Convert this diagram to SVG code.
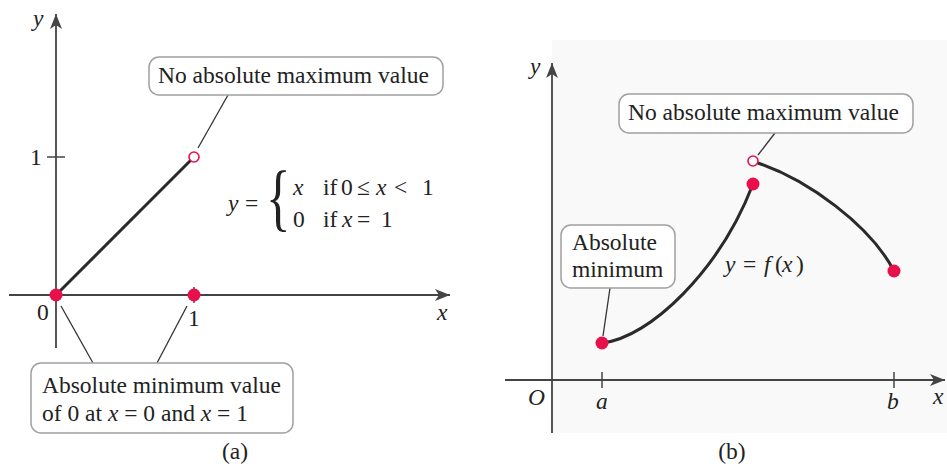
<svg xmlns="http://www.w3.org/2000/svg" width="947" height="468" viewBox="0 0 947 468">
<defs>
<style>
.t{font-family:'Liberation Serif','Times New Roman',serif;font-size:23.5px;fill:#222}
.i{font-style:italic}
.box{fill:#fff;stroke:#a0a0a0;stroke-width:1.5}
.axis{stroke:#444;stroke-width:1.8;fill:none}
.tick{stroke:#444;stroke-width:1.5}
.curve{stroke:#2a2a2a;stroke-width:3;fill:none;stroke-linecap:round}
.lead{stroke:#333;stroke-width:1.3;fill:none}
.dot{fill:#e8104a}
.open{fill:#fff;stroke:#e8104a;stroke-width:1.6}
</style>
<marker id="arr" viewBox="0 0 16 12" refX="15" refY="6" markerWidth="16" markerHeight="12" markerUnits="userSpaceOnUse" orient="auto">
<path d="M15,6 L0,0 L4,6 L0,12 Z" fill="#444"/>
</marker>
</defs>
<rect width="947" height="468" fill="#fff"/>
<rect x="552" y="40" width="395" height="393" fill="#f9f9f9"/>

<g id="axes-a">
<line class="axis" x1="56" y1="348" x2="56" y2="14" marker-end="url(#arr)"/>
<line class="axis" x1="9" y1="295" x2="450" y2="295" marker-end="url(#arr)"/>
<line class="tick" x1="47" y1="157" x2="65" y2="157"/>
<line class="tick" x1="194" y1="287" x2="194" y2="303"/>
<text class="t i" x="33" y="26">y</text>
<text class="t i" x="437" y="320">x</text>
<text class="t" x="37" y="320">0</text>
<text class="t" x="188" y="326">1</text>
<text class="t" x="30" y="165">1</text>
</g>

<g id="axes-b">
<line class="axis" x1="552" y1="433" x2="552" y2="63" marker-end="url(#arr)"/>
<line class="axis" x1="505" y1="380" x2="945" y2="380" marker-end="url(#arr)"/>
<line class="tick" x1="602" y1="372" x2="602" y2="388"/>
<line class="tick" x1="894" y1="372" x2="894" y2="388"/>
<text class="t i" x="530" y="74">y</text>
<text class="t i" x="933" y="404">x</text>
<text class="t i" x="528" y="405">O</text>
<text class="t i" x="596" y="409">a</text>
<text class="t i" x="887" y="409">b</text>
</g>

<g id="connectors">
<line class="lead" x1="228" y1="95" x2="198" y2="148"/>
<line class="lead" x1="61" y1="306" x2="93" y2="363"/>
<line class="lead" x1="187" y1="306" x2="157" y2="363"/>
<line class="lead" x1="775" y1="133" x2="758" y2="155"/>
<line class="lead" x1="610" y1="288" x2="603" y2="336"/>
</g>

<g id="graph-a">
<line class="curve" x1="56" y1="295" x2="190" y2="161"/>
</g>

<g id="graph-b">
<path class="curve" d="M602,343 C650,338 720,270 753,184"/>
<path class="curve" d="M758,163 C808,180 870,225 894,271"/>
</g>

<g id="point-a-open"><circle class="open" cx="194" cy="157" r="5"/></g>
<g id="point-a-0"><circle class="dot" cx="56" cy="295" r="6.5"/></g>
<g id="point-a-1"><circle class="dot" cx="194" cy="295" r="6.5"/></g>
<g id="point-b-a"><circle class="dot" cx="602" cy="343" r="6.5"/></g>
<g id="point-b-top"><circle class="dot" cx="753" cy="184" r="6.5"/></g>
<g id="point-b-b"><circle class="dot" cx="894" cy="271" r="6.5"/></g>
<g id="point-b-open"><circle class="open" cx="753" cy="161" r="5"/></g>

<g id="box-a-max">
<rect class="box" x="149" y="57" width="294" height="38" rx="10"/>
<text class="t" x="158" y="83">No absolute maximum value</text>
</g>

<g id="box-a-min">
<rect class="box" x="31" y="363" width="262" height="70" rx="10"/>
<text class="t" x="42" y="393">Absolute minimum value</text>
<text class="t" y="421"><tspan x="42">of 0 at </tspan><tspan class="i">x</tspan><tspan> = 0 and </tspan><tspan class="i">x</tspan><tspan> = 1</tspan></text>
</g>

<g id="equation-a">
<text class="t"><tspan class="i" x="228" y="211">y</tspan><tspan x="245" y="211">=</tspan></text>
<text class="t" transform="translate(266,222) scale(0.7,1)" style="font-size:73px">{</text>
<text class="t" y="195"><tspan class="i" x="293">x</tspan><tspan x="323">if</tspan><tspan x="341">0</tspan><tspan x="357">≤</tspan><tspan class="i" x="376">x</tspan><tspan x="394">&lt;</tspan><tspan x="422">1</tspan></text>
<text class="t" y="227"><tspan x="293">0</tspan><tspan x="323">if</tspan><tspan class="i" x="342">x</tspan><tspan x="357">=</tspan><tspan x="381">1</tspan></text>
</g>

<g id="box-b-max">
<rect class="box" x="619" y="94" width="294" height="39" rx="10"/>
<text class="t" x="628" y="120">No absolute maximum value</text>
</g>

<g id="box-b-min">
<rect class="box" x="561" y="225" width="114" height="63" rx="10"/>
<text class="t" x="572" y="250">Absolute</text>
<text class="t" x="572" y="277">minimum</text>
</g>

<g id="label-fx">
<text class="t" y="272"><tspan class="i" x="725">y</tspan><tspan x="743">=</tspan><tspan class="i" x="764">f</tspan><tspan x="775">(</tspan><tspan class="i" x="782">x</tspan><tspan x="796">)</tspan></text>
</g>

<g id="captions">
<text class="t" x="235" y="459" text-anchor="middle">(a)</text>
<text class="t" x="732" y="459" text-anchor="middle">(b)</text>
</g>
</svg>
